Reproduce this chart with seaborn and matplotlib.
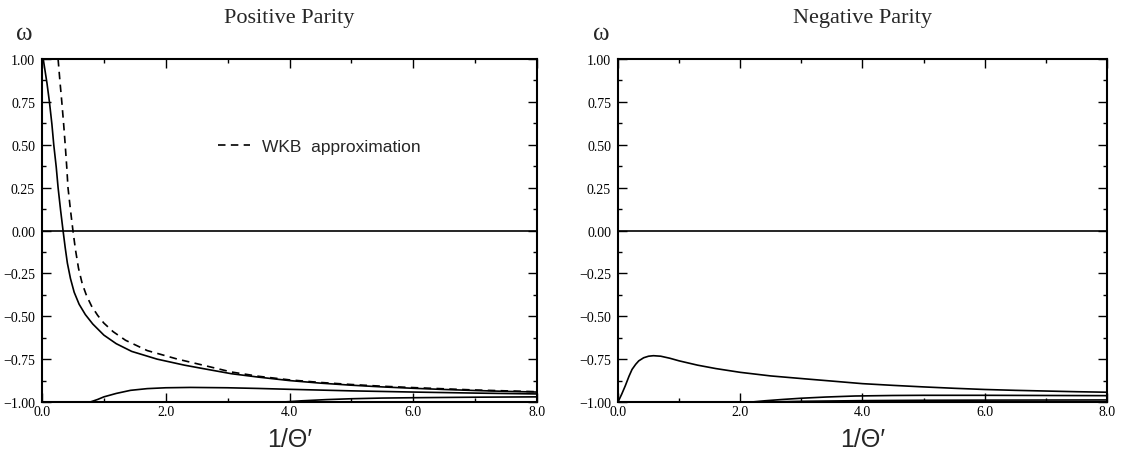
import numpy as np
import pandas as pd
import matplotlib
matplotlib.use('Agg')
import matplotlib.pyplot as plt
import seaborn as sns
from matplotlib.ticker import MultipleLocator, FuncFormatter
from matplotlib.lines import Line2D

# ---- data ----
# Positive parity: exact lowest mode
pos_main_x = [0.02, 0.08, 0.12, 0.16, 0.19, 0.23, 0.26, 0.30, 0.34, 0.375, 0.41, 0.46,
              0.52, 0.60, 0.70, 0.82, 1.00, 1.20, 1.45, 1.86, 2.30, 2.60, 3.06, 3.50,
              4.00, 4.50, 5.00, 5.50, 6.00, 6.50, 7.00, 7.50, 8.00]
pos_main_y = [1.00, 0.86, 0.75, 0.62, 0.50, 0.37, 0.25, 0.12, 0.00, -0.10, -0.19, -0.28,
              -0.36, -0.43, -0.49, -0.545, -0.61, -0.66, -0.705, -0.75, -0.785, -0.805, -0.835, -0.855,
              -0.875, -0.89, -0.902, -0.912, -0.92, -0.927, -0.933, -0.938, -0.942]

# Positive parity: WKB approximation
wkb_x = [0.26, 0.29, 0.32, 0.35, 0.375, 0.40, 0.42, 0.46, 0.50, 0.54, 0.59, 0.65, 0.72,
         0.80, 0.90, 1.00, 1.15, 1.35, 1.70, 2.19, 2.60, 3.06, 3.50, 4.00, 4.50, 5.00,
         5.50, 6.00, 6.50, 7.00, 7.50, 8.00]
wkb_y = [1.00, 0.87, 0.75, 0.62, 0.50, 0.37, 0.25, 0.12, 0.00, -0.11, -0.22, -0.31, -0.38,
         -0.44, -0.495, -0.54, -0.59, -0.64, -0.70, -0.75, -0.785, -0.825, -0.85, -0.871, -0.886, -0.898,
         -0.908, -0.916, -0.923, -0.93, -0.935, -0.94]

# Positive parity: higher modes near -1
pos_m2_x = [0.78, 0.90, 1.00, 1.20, 1.43, 1.70, 2.00, 2.40, 3.00, 3.50, 4.00, 5.00, 6.00, 7.00, 8.00]
pos_m2_y = [-1.00, -0.985, -0.97, -0.95, -0.932, -0.922, -0.917, -0.915, -0.917, -0.921, -0.926,
            -0.935, -0.942, -0.948, -0.953]
pos_m3_x = [3.90, 4.20, 4.60, 5.00, 5.50, 6.00, 7.00, 8.00]
pos_m3_y = [-1.00, -0.993, -0.986, -0.981, -0.977, -0.975, -0.972, -0.970]

# Negative parity
neg_main_x = [0.00, 0.06, 0.12, 0.18, 0.23, 0.29, 0.34, 0.42, 0.50, 0.58, 0.70, 0.85, 1.00,
              1.30, 1.60, 2.00, 2.50, 3.06, 3.50, 4.00, 4.50, 5.00, 5.50, 6.00, 6.50, 7.00,
              7.50, 8.00]
neg_main_y = [-1.00, -0.955, -0.905, -0.85, -0.81, -0.78, -0.76, -0.742, -0.733, -0.730, -0.733,
              -0.745, -0.76, -0.785, -0.805, -0.827, -0.848, -0.865, -0.878, -0.893, -0.903, -0.912,
              -0.92, -0.927, -0.932, -0.936, -0.94, -0.943]
neg_m2_x = [2.19, 2.40, 2.70, 3.00, 3.40, 3.88, 4.50, 5.00, 6.00, 7.00, 8.00]
neg_m2_y = [-1.00, -0.993, -0.985, -0.978, -0.971, -0.965, -0.962, -0.961, -0.961, -0.962, -0.963]
neg_m3_x = [2.45, 3.00, 4.00, 5.00, 6.00, 8.00]
neg_m3_y = [-1.00, -0.996, -0.992, -0.990, -0.989, -0.988]

# omega = 0 mode, both parities
zero_x = [0.0, 8.0]
zero_y = [0.0, 0.0]

titles = ['Positive Parity', 'Negative Parity']

# ---- styling ----
sns.set_theme(style='ticks')
plt.rcParams['font.family'] = ['Liberation Serif', 'DejaVu Serif']
plt.rcParams['axes.linewidth'] = 1.5
plt.rcParams['xtick.direction'] = 'in'
plt.rcParams['ytick.direction'] = 'in'

fig = plt.figure(figsize=(11.23, 4.52), dpi=100)
ax1 = fig.add_axes([0.0374, 0.1084, 0.4408, 0.7588])
ax2 = fig.add_axes([0.5503, 0.1084, 0.4354, 0.7588])

lw = 1.2
dash = (4.5, 3.2)
curves_left = [(pos_main_x, pos_main_y, True), (wkb_x, wkb_y, False),
               (pos_m2_x, pos_m2_y, True), (pos_m3_x, pos_m3_y, True), (zero_x, zero_y, True)]
curves_right = [(neg_main_x, neg_main_y, True), (neg_m2_x, neg_m2_y, True),
                (neg_m3_x, neg_m3_y, True), (zero_x, zero_y, True)]

for ax, curves in [(ax1, curves_left), (ax2, curves_right)]:
    for xs, ys, solid in curves:
        df = pd.DataFrame({'x': xs, 'y': ys})
        line_ax = sns.lineplot(data=df, x='x', y='y', ax=ax, color='black', linewidth=lw,
                               sort=False, estimator=None)
        if not solid:
            line_ax.lines[-1].set_dashes(dash)


def minus_fmt(fmt):
    return FuncFormatter(lambda v, p: (fmt % v).replace('-', '\u2212'))


for ax, title in zip([ax1, ax2], titles):
    ax.set_xlim(0, 8)
    ax.set_ylim(-1, 1)
    ax.xaxis.set_major_locator(MultipleLocator(2))
    ax.xaxis.set_minor_locator(MultipleLocator(1))
    ax.yaxis.set_major_locator(MultipleLocator(0.25))
    ax.yaxis.set_minor_locator(MultipleLocator(0.125))
    ax.xaxis.set_major_formatter(minus_fmt('%.1f'))
    ax.yaxis.set_major_formatter(minus_fmt('%.2f'))
    ax.tick_params(which='both', top=True, right=True, width=1.0, labelsize=10, colors='black')
    ax.tick_params(which='major', length=6.5)
    ax.tick_params(which='minor', length=3)
    ax.tick_params(axis='x', pad=2.5)
    ax.tick_params(axis='y', pad=5)
    for s in ax.spines.values():
        s.set_color('black')
    ax.set_title(title, fontsize=16, pad=27)
    ax.set_xlabel('1/\u0398\u2032', fontsize=18, family=['Liberation Sans', 'DejaVu Sans'], labelpad=6)
    ax.set_ylabel('')
    ax.text(-0.035, 1.076, '\u03c9', transform=ax.transAxes, fontsize=18,
            ha='center', va='center')

handle = Line2D([], [], color='black', linewidth=lw, dashes=dash)
ax1.legend(handles=[handle], labels=['WKB  approximation'], loc='center left',
           bbox_to_anchor=(0.356, 0.746), frameon=False, handlelength=1.85,
           handletextpad=0.7, borderpad=0, borderaxespad=0,
           prop={'family': ['Liberation Sans', 'DejaVu Sans'], 'size': 12.5})

fig.savefig('out.png', dpi=100)
